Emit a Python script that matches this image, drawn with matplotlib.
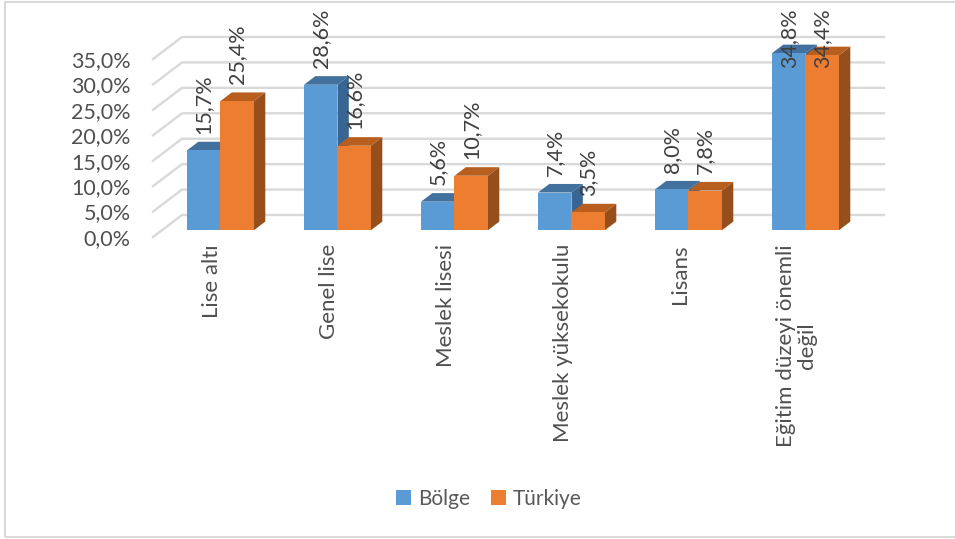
import matplotlib
matplotlib.use("Agg")
import matplotlib.pyplot as plt
from matplotlib.patches import Rectangle, Polygon

plt.rcParams['font.family'] = ['Lato', 'DejaVu Sans']

categories = ["Lise altı", "Genel lise", "Meslek lisesi", "Meslek yüksekokulu", "Lisans",
              "Eğitim düzeyi önemli\ndeğil"]
bolge = [15.7, 28.6, 5.6, 7.4, 8.0, 34.8]
turkiye = [25.4, 16.6, 10.7, 3.5, 7.8, 34.4]
y_ticks = [0, 5, 10, 15, 20, 25, 30, 35]

W, H = 955, 539
TEXT = "#505050"
GRID = "#D9D9D9"

fig = plt.figure(figsize=(W / 100, H / 100), dpi=100)
# frame runs off the right side of the picture
fig.add_artist(Rectangle((4.5 / W, 1 - 537 / H), 960 / W, 535 / H, transform=fig.transFigure,
                         fill=False, ec="#D9D9D9", lw=1.5))

# axes = front edge of the floor, 0..6 categories, 0..35 percent
ax = fig.add_axes([153 / W, 1 - 237 / H, 702 / W, 178 / H])
ax.set_xlim(0, 6)
ax.set_ylim(0, 35)
for s in ax.spines.values():
    s.set_visible(False)
ax.patch.set_visible(False)

# fake 3d: how far the back wall is moved, in data units
DX = 29 / 117
DY = 22 / (178 / 35)


def depth(x, y, d):
    return (x + d * DX, y + d * DY)


for t in y_ticks:
    ax.plot([0, DX, 6 + DX], [t, t + DY, t + DY], color=GRID, lw=1.7, clip_on=False, zorder=1)

BW = 33.5 / 117
D0 = 0.31
D1 = 0.70


def bar3d(x, v, front, top, side):
    p = [depth(x, 0, D0), depth(x + BW, 0, D0), depth(x + BW, v, D0), depth(x, v, D0)]
    ax.add_patch(Polygon(p, fc=front, ec="none", clip_on=False, zorder=4))
    p = [depth(x, v, D0), depth(x + BW, v, D0), depth(x + BW, v, D1), depth(x, v, D1)]
    ax.add_patch(Polygon(p, fc=top, ec="none", clip_on=False, zorder=3))
    p = [depth(x + BW, 0, D0), depth(x + BW, 0, D1), depth(x + BW, v, D1), depth(x + BW, v, D0)]
    ax.add_patch(Polygon(p, fc=side, ec="none", clip_on=False, zorder=3))


LABEL_CAP = 28.6
for i in range(len(categories)):
    x0 = i + 0.5 - BW
    bar3d(x0, bolge[i], "#5B9BD5", "#41719C", "#386591")
    bar3d(x0 + BW, turkiye[i], "#ED7D31", "#B85F1F", "#964F1B")
    for x, v in [(x0, bolge[i]), (x0 + BW, turkiye[i])]:
        xx, yy = depth(x + BW / 2, min(v, LABEL_CAP), D0)
        ax.annotate(f"{v:.1f}%".replace(".", ","), (xx, yy), xytext=(0, 12),
                    textcoords="offset points", rotation=90, ha="center", va="bottom",
                    fontsize=15.5, color="#404040", zorder=6, annotation_clip=False)

ax.set_yticks(y_ticks)
ax.set_yticklabels([f"{t:.1f}%".replace(".", ",") for t in y_ticks], fontsize=15.5, color=TEXT)
ax.set_xticks([i + 0.5 for i in range(len(categories))])
ax.set_xticklabels(categories, rotation=90, fontsize=16, color=TEXT, va="top", ha="center",
                   linespacing=1.1)
ax.tick_params(axis="both", length=0)
ax.tick_params(axis="y", pad=16)
ax.tick_params(axis="x", pad=5)

handles = [Rectangle((0, 0), 1, 1, fc="#5B9BD5"), Rectangle((0, 0), 1, 1, fc="#ED7D31")]
fig.legend(handles, ["Bölge", "Türkiye"], loc="center", bbox_to_anchor=(489 / W, 1 - 499 / H),
           ncol=2, frameon=False, fontsize=15, labelcolor="#595959", handlelength=0.7,
           handleheight=0.7, handletextpad=0.35, columnspacing=1.0)

fig.savefig("out.png", dpi=100)
